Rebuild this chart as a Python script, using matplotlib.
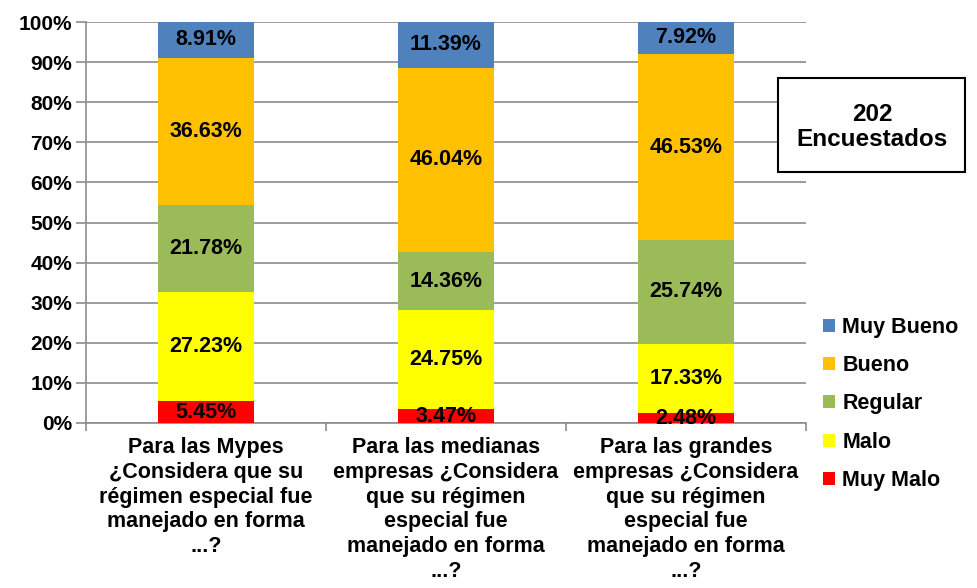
import matplotlib
matplotlib.use('Agg')
import matplotlib.pyplot as plt
from matplotlib.patches import Rectangle
import numpy as np
from matplotlib.ticker import FuncFormatter, FixedLocator

# Data (percent of 202 respondents)
categories = [
    "Para las Mypes\n¿Considera que su\nrégimen especial fue\nmanejado en forma\n...?",
    "Para las medianas\nempresas ¿Considera\nque su régimen\nespecial fue\nmanejado en forma\n...?",
    "Para las grandes\nempresas ¿Considera\nque su régimen\nespecial fue\nmanejado en forma\n...?",
]
series_names = ["Muy Malo", "Malo", "Regular", "Bueno", "Muy Bueno"]
muy_malo = [5.45, 3.47, 2.48]
malo = [27.23, 24.75, 17.33]
regular = [21.78, 14.36, 25.74]
bueno = [36.63, 46.04, 46.53]
muy_bueno = [8.91, 11.39, 7.92]
series_values = [muy_malo, malo, regular, bueno, muy_bueno]

COLORS = ["#FF0000", "#FFFF00", "#9BBB59", "#FFC000", "#4F81BD"]

plt.rcParams['font.family'] = ['Liberation Sans', 'DejaVu Sans']
plt.rcParams['font.weight'] = 'bold'

fig = plt.figure(figsize=(9.77, 5.88), dpi=100)
ax = fig.add_axes([86 / 977, 1 - 423 / 588, 720 / 977, 401 / 588])

x = np.arange(len(categories))
bottom = np.zeros(len(categories))
handles = []
for name, vals, color in zip(series_names, series_values, COLORS):
    vals = np.array(vals)
    bars = ax.bar(x, vals, 0.4, bottom=bottom, color=color, label=name, zorder=3)
    handles.append(bars)
    for xi, b, v in zip(x, bottom, vals):
        ax.text(xi, b + v / 2, f"{v:.2f}%", ha='center', va='center',
                fontsize=15.5, fontweight='bold', color='black', zorder=4)
    bottom += vals

ax.set_xlim(-0.5, 2.5)
ax.set_ylim(0, 100)
ax.set_yticks(np.arange(0, 101, 10))
ax.yaxis.set_major_formatter(FuncFormatter(lambda v, p: f"{v:.0f}%"))
ax.tick_params(axis='y', labelsize=15, length=7, color='#8C8C8C', width=1.2, pad=3)
ax.grid(axis='y', color='#8C8C8C', linewidth=1.2, zorder=0)

ax.set_xticks(x)
ax.set_xticklabels(categories, fontsize=15.5, fontweight='bold', linespacing=1.24)
ax.tick_params(axis='x', which='major', length=0, pad=10)
ax.xaxis.set_minor_locator(FixedLocator([-0.5, 0.5, 1.5, 2.5]))
ax.tick_params(axis='x', which='minor', length=6, color='#8C8C8C', width=1.2)

for s in ['top', 'right']:
    ax.spines[s].set_visible(False)
for s in ['left', 'bottom']:
    ax.spines[s].set_color('#8C8C8C')
    ax.spines[s].set_linewidth(1.2)

# legend, top item first
leg = fig.legend(handles[::-1], series_names[::-1], loc='center left',
                 bbox_to_anchor=(823 / 977, 1 - 404 / 588), frameon=False,
                 fontsize=15.5, handlelength=0.55, handleheight=0.55,
                 handletextpad=0.35, labelspacing=0.8, borderpad=0, borderaxespad=0)
for t in leg.get_texts():
    t.set_fontweight('bold')

# respondent box
fig.patches.append(Rectangle((778 / 977, 1 - 172 / 588), 187 / 977, 94 / 588,
                             transform=fig.transFigure, facecolor='white',
                             edgecolor='black', linewidth=1.5, zorder=5))
fig.text(872 / 977, 1 - 127 / 588, "202\nEncuestados", ha='center', va='center',
         fontsize=17.5, fontweight='bold', linespacing=1.15, zorder=6)

fig.savefig("out.png", dpi=100)
